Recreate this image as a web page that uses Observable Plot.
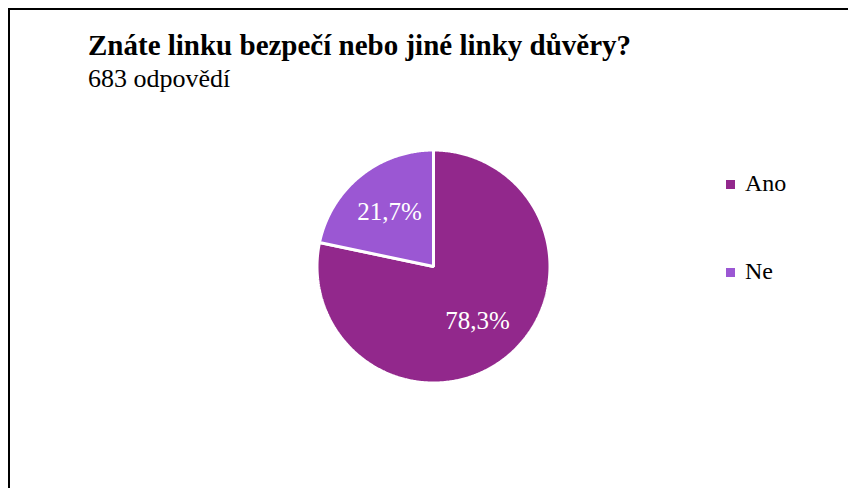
<!DOCTYPE html>
<html>
<head>
<meta charset="utf-8">
<script src="https://cdn.jsdelivr.net/npm/d3@7"></script>
<script src="https://cdn.jsdelivr.net/npm/@observablehq/plot@0.6"></script>
<style>
  html, body { margin: 0; padding: 0; background: #fff; }
  body { width: 848px; height: 488px; position: relative; overflow: hidden; font-family: "Liberation Serif", "Times New Roman", serif; }
  #frame { position: absolute; left: 8px; top: 8px; width: 900px; height: 600px; border-top: 2px solid #000; border-left: 2px solid #000; }
  #title { position: absolute; left: 88px; top: 31px; font-size: 29px; line-height: 29px; font-weight: bold; color: #000; white-space: nowrap; }
  #subtitle { position: absolute; left: 88px; top: 66px; font-size: 26px; line-height: 26px; color: #000; white-space: nowrap; }
  #chart { position: absolute; left: 0; top: 0; }
  .leg { position: absolute; left: 726px; font-size: 24px; line-height: 24px; white-space: nowrap; color: #000; }
  .leg .sw { display: inline-block; width: 9px; height: 9px; margin-right: 10px; vertical-align: 2px; }
</style>
</head>
<body>
<div id="frame"></div>
<div id="chart"></div>
<div id="title"></div>
<div id="subtitle"></div>
<div id="legend"></div>
<script>
const titleText = "Znáte linku bezpečí nebo jiné linky důvěry?";
const subtitleText = "683 odpovědí";
const categories = ["Ano", "Ne"];
const values = [78.3, 21.7];
const valueLabels = ["78,3%", "21,7%"];
const colors = ["#92288C", "#9B57D3"];

document.getElementById("title").textContent = titleText;
document.getElementById("subtitle").textContent = subtitleText;

// Pie geometry from data
const arcs = d3.pie().sort(null).value(d => d.value)(
  categories.map((c, i) => ({key: c, value: values[i], label: valueLabels[i]}))
);
const pts = [];
arcs.forEach(a => {
  pts.push({key: a.data.key, x: 0, y: 0});
  const n = Math.max(2, Math.ceil((a.endAngle - a.startAngle) / (Math.PI / 360)));
  for (let k = 0; k <= n; k++) {
    const t = a.startAngle + (a.endAngle - a.startAngle) * k / n;
    pts.push({key: a.data.key, x: Math.sin(t), y: Math.cos(t)});
  }
});
const labelR = 0.6;
const labelPts = arcs.map(a => {
  const m = (a.startAngle + a.endAngle) / 2;
  return {key: a.data.key, label: a.data.label, x: labelR * Math.sin(m), y: labelR * Math.cos(m)};
});

const cx = 433, cy = 266, r = 116.5;
const chart = Plot.plot({
  width: 848,
  height: 488,
  margin: 0,
  style: {background: "transparent", fontFamily: "Liberation Serif, Times New Roman, serif"},
  x: {domain: [-1, 1], range: [cx - r, cx + r], axis: null},
  y: {domain: [-1, 1], range: [cy + r, cy - r], axis: null},
  color: {domain: categories, range: colors},
  marks: [
    Plot.line(pts, {x: "x", y: "y", z: "key", fill: "key", stroke: "white", strokeWidth: 3, strokeLinejoin: "miter", curve: "linear-closed"}),
    Plot.text(labelPts, {x: "x", y: "y", text: "label", fill: "white", fontSize: 25})
  ]
});
document.getElementById("chart").appendChild(chart);

// Legend
const legTops = [171, 259];
const legend = document.getElementById("legend");
categories.forEach((c, i) => {
  const d = document.createElement("div");
  d.className = "leg";
  d.style.top = legTops[i] + "px";
  const sw = document.createElement("span");
  sw.className = "sw";
  sw.style.background = colors[i];
  d.appendChild(sw);
  d.appendChild(document.createTextNode(c));
  legend.appendChild(d);
});
</script>
</body>
</html>
